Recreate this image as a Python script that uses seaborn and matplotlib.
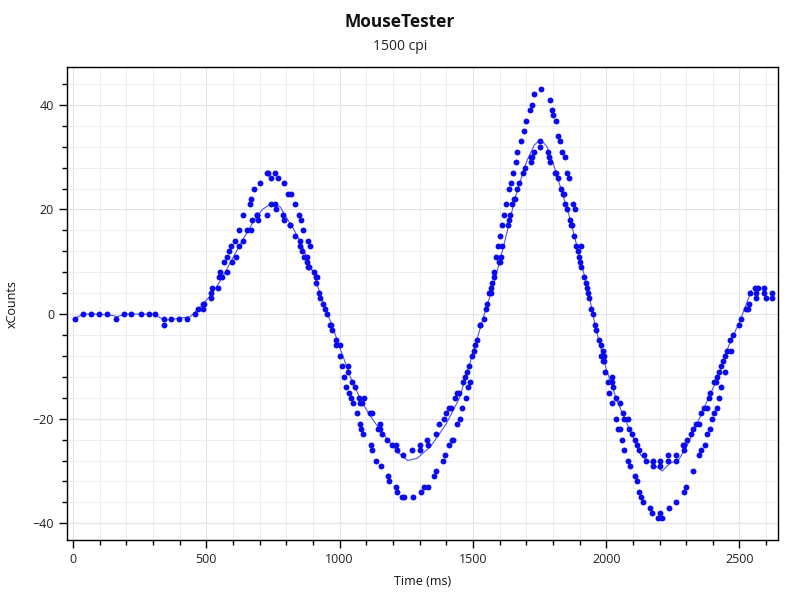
import matplotlib
matplotlib.use("Agg")
import matplotlib.pyplot as plt
from matplotlib.ticker import MultipleLocator
import seaborn as sns
import pandas as pd

title = "MouseTester"
subtitle = "1500 cpi"
x_label = "Time (ms)"
y_label = "xCounts"

# sampled points (time in ms, counts)
time_ms = [
    6, 39, 68, 98, 128, 160, 190, 218, 255, 286, 308, 340, 342, 368, 398, 428, 458, 469, 487, 488,
    493, 517, 518, 522, 544, 546, 553, 560, 568, 577, 578, 584, 593, 596, 608, 610, 623, 624, 638, 639,
    652, 663, 668, 669, 673, 679, 689, 691, 692, 703, 728, 729, 731, 742, 743, 758, 759, 760, 768, 788,
    792, 793, 808, 812, 815, 816, 833, 834, 847, 850, 851, 856, 859, 864, 866, 877, 878, 880, 881, 885,
    888, 903, 910, 912, 916, 922, 927, 938, 945, 952, 965, 968, 971, 987, 988, 1000, 1002,
    1008, 1017, 1025, 1030, 1031, 1035, 1042, 1046, 1050, 1056, 1066, 1074, 1075, 1078, 1081, 1083, 1089, 1091,
    1115, 1116, 1121, 1122, 1137, 1144, 1150, 1151, 1154, 1159, 1179, 1180, 1186, 1195, 1210, 1211, 1215, 1217,
    1234, 1239, 1243, 1270, 1275, 1300, 1301, 1306, 1315, 1329, 1330, 1332, 1354, 1360, 1362, 1371, 1386, 1391,
    1394, 1398, 1410, 1412, 1419, 1420, 1426, 1434, 1441, 1442, 1449, 1450, 1458, 1463, 1469, 1474, 1479, 1480,
    1484, 1490, 1497, 1503, 1509, 1515, 1525,
    1528, 1540, 1548, 1553, 1560, 1568, 1569, 1571, 1578, 1579, 1587, 1594, 1597, 1601, 1603, 1604, 1609, 1610,
    1618, 1625, 1630, 1634, 1637, 1639, 1642, 1648, 1649, 1654, 1659, 1660, 1665, 1667, 1672, 1682, 1689, 1690,
    1697, 1698, 1716, 1717, 1718, 1722, 1723, 1729, 1731, 1750, 1751, 1754, 1780, 1786, 1788, 1789, 1795, 1802,
    1807, 1810, 1812, 1818, 1819, 1827, 1831, 1835, 1837, 1842, 1844, 1847, 1852, 1854, 1859, 1863, 1868, 1872,
    1876, 1879, 1883, 1888, 1893, 1899, 1900, 1906, 1907, 1918, 1923, 1929, 1933, 1936, 1943, 1949, 1958, 1963,
    1972, 1979, 1982, 1987, 1988, 1992, 1993, 1997, 2005, 2012, 2020, 2021, 2022, 2027, 2036, 2038, 2044, 2050,
    2053, 2061, 2062, 2067, 2068, 2081, 2083, 2085, 2091, 2098, 2108, 2109, 2114, 2116, 2123, 2124, 2131, 2138,
    2140, 2148, 2163, 2170, 2175, 2176, 2195, 2200, 2201, 2202, 2210, 2231, 2232, 2235, 2261, 2262, 2263, 2289,
    2291, 2292, 2293, 2300, 2303, 2320, 2325, 2327, 2336, 2349, 2350, 2355, 2356, 2368, 2372, 2379, 2380, 2386,
    2388, 2391, 2397, 2404, 2406, 2412, 2414, 2415, 2422, 2423, 2430, 2431, 2437, 2446, 2447, 2452, 2464, 2469,
    2476, 2497, 2505, 2523, 2531, 2534, 2541, 2560, 2562, 2563, 2569, 2592, 2593, 2601, 2621, 2622,
]
x_counts = [
    -1, 0, 0, 0, 0, -1, 0, 0, 0, 0, 0, -1, -2, -1, -1, -1, 0, 1, 2, 1,
    2, 3, 4, 5, 5, 7, 8, 7, 10, 11, 8, 12, 13, 10, 14, 11, 16, 13, 19, 14,
    16, 21, 16, 22, 18, 24, 19, 19, 18, 25, 27, 19, 27, 21, 26, 27, 21, 20, 26, 19,
    25, 18, 23, 17, 17, 23, 21, 15, 19, 14, 13, 18, 12, 16, 11, 11, 10, 9, 14, 9,
    13, 8, 6, 7, 7, 4, 3, 2, 1, 0, -2, -2, -3, -5, -6, -6, -8,
    -10, -12, -14, -10, -11, -15, -16, -13, -17, -14, -19, -16, -21, -17, -22, -17, -23, -16,
    -19, -25, -19, -26, -28, -22, -21, -22, -29, -23, -24, -31, -32, -25, -25, -33, -26, -34,
    -35, -27, -35, -26, -35, -25, -26, -34, -33, -24, -33, -25, -31, -23, -30, -21, -28, -20,
    -27, -19, -25, -18, -18, -24, -24, -16, -21, -15, -15, -20, -18, -13, -12, -16, -11, -14,
    -10, -13, -8, -7, -6, -5, -2,
    -2, -1, 1, 2, 4, 5, 4, 6, 7, 8, 11, 13, 10, 15, 10, 11, 13, 17,
    19, 21, 17, 24, 18, 19, 25, 21, 27, 22, 22, 29, 31, 24, 25, 33, 27, 35,
    28, 37, 39, 29, 30, 40, 30, 31, 42, 33, 32, 43, 31, 30, 41, 29, 39, 38,
    27, 37, 27, 34, 26, 33, 24, 31, 23, 23, 30, 21, 27, 20, 26, 18, 17, 17,
    21, 15, 20, 13, 12, 11, 10, 9, 13, 7, 6, 5, 4, 3, 1, 0, -2, -3,
    -5, -8, -6, -7, -9, -8, -9, -11, -13, -15, -17, -12, -13, -14, -20, -16, -22, -17,
    -22, -24, -19, -20, -26, -20, -28, -22, -29, -23, -24, -31, -25, -32, -26, -34, -35, -36,
    -27, -28, -37, -38, -29, -28, -39, -29, -28, -38, -39, -27, -28, -37, -27, -28, -36, -25,
    -26, -34, -25, -33, -24, -23, -30, -22, -21, -27, -21, -19, -26, -18, -25, -18, -23, -16,
    -22, -15, -20, -13, -19, -13, -12, -18, -11, -16, -14, -10, -9, -11, -8, -7, -5, -7,
    -4, -2, -1, 1, 1, 2, 4, 5, 3, 4, 5, 4, 5, 3, 3, 4,
]

# smoothed trace
line_time = [0, 40, 100, 150, 165, 200, 300, 330, 345, 400, 440, 480, 520, 560, 600, 640, 680, 710,
             746, 777, 800, 830, 860, 900, 940, 970, 1000, 1040, 1080, 1115, 1150, 1180, 1220, 1255,
             1290, 1340, 1400, 1450, 1500, 1540, 1580, 1620, 1660, 1700, 1730, 1753, 1778, 1800, 1830,
             1860, 1900, 1930, 1960, 2000, 2040, 2070, 2100, 2130, 2170, 2210, 2240, 2270, 2300, 2340,
             2380, 2420, 2460, 2500, 2545]
line_counts = [-1, 0, 0, -0.3, -0.5, 0, 0, -0.8, -1.2, -0.8, -0.5, 1.5, 3.8, 7, 10.8, 14.5, 18, 20,
               21.2, 20.5, 18.5, 16, 13, 8, 2, -2, -6.3, -12, -16.5, -19.5, -22, -24, -26.5, -28,
               -27.6, -25.4, -21, -16, -7.5, -0.5, 6, 14, 22.5, 29, 32.3, 33.4, 32, 29, 24,
               19, 11, 5, -2.5, -10.5, -16.5, -20, -23.5, -27, -28.5, -30, -28.5, -28, -25.5, -21,
               -16.5, -12, -6, -1.5, 4.5]

pts = pd.DataFrame({"t": time_ms, "v": x_counts})
trace = pd.DataFrame({"t": line_time, "v": line_counts})

sns.set_theme(style="white")
plt.rcParams["font.family"] = ["Open Sans", "DejaVu Sans"]

fig = plt.figure(figsize=(8, 6), dpi=100)
ax = fig.add_axes([0.084, 0.1, 0.889, 0.788])

sns.lineplot(data=trace, x="t", y="v", ax=ax, color="#5050ff", linewidth=0.8,
             estimator=None, sort=False, zorder=2)
sns.scatterplot(data=pts, x="t", y="v", ax=ax, color="#0a0aee", s=18,
                linewidth=0, zorder=3)

ax.set_xlim(-22, 2646)
ax.set_ylim(-43.2, 47.2)
ax.xaxis.set_major_locator(MultipleLocator(500))
ax.xaxis.set_minor_locator(MultipleLocator(100))
ax.yaxis.set_major_locator(MultipleLocator(20))
ax.yaxis.set_minor_locator(MultipleLocator(4))

ax.grid(which="minor", color="#ededf3", linewidth=0.7)
ax.grid(which="major", color="#e2e2ea", linewidth=0.8)
ax.set_axisbelow(True)

for s in ax.spines.values():
    s.set_color("black")
    s.set_linewidth(1.0)

ax.tick_params(which="major", direction="out", length=6, width=1, color="black",
               labelsize=9, labelcolor="#222222", bottom=True, left=True)
ax.tick_params(which="minor", direction="out", length=3.5, width=1, color="black",
               bottom=True, left=True)

ax.set_xlabel(x_label, fontsize=9, color="#111111", labelpad=6)
ax.set_ylabel(y_label, fontsize=9, color="#111111", labelpad=10)

fig.text(0.5, 0.963, title, ha="center", va="center", fontsize=12.5, fontweight="bold",
         color="#111111")
fig.text(0.5, 0.923, subtitle, ha="center", va="center", fontsize=10, color="#222222")

fig.savefig("out.png", dpi=100, facecolor="white")
